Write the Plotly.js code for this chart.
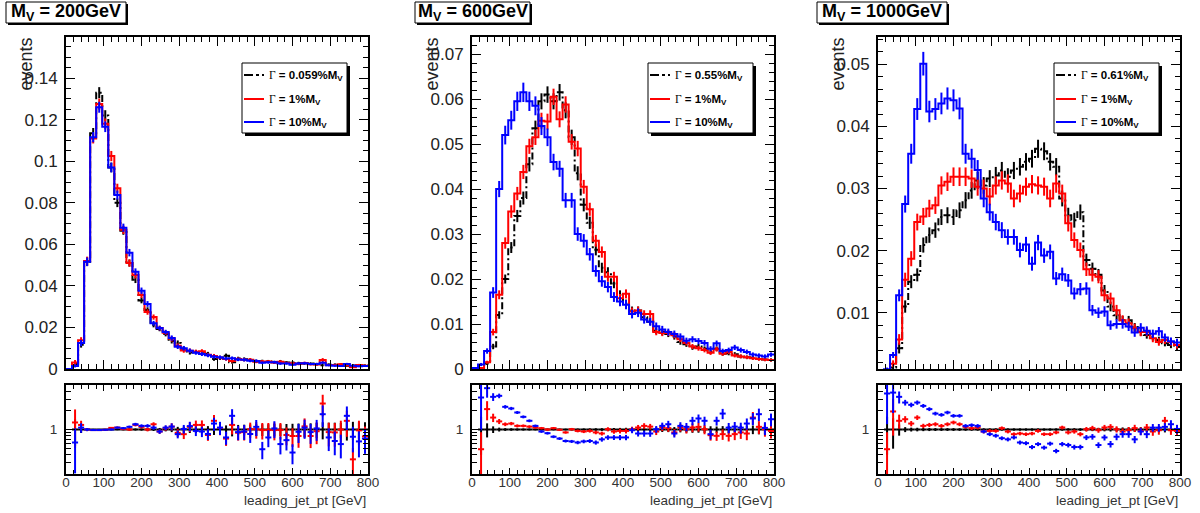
<!DOCTYPE html>
<html><head><meta charset="utf-8">
<script src="https://cdn.plot.ly/plotly-3.0.1.min.js"></script>
<style>html,body{margin:0;padding:0;background:#fff}#chart{width:1200px;height:513px}</style>
</head><body><div id="chart"></div>
<script>
// ---------------- DATA ----------------
const binEdges = [0,16,32,48,64,80,96,112,128,144,160,176,192,208,224,240,256,272,288,304,320,336,352,368,384,400,416,432,448,464,480,496,512,528,544,560,576,592,608,624,640,656,672,688,704,720,736,752,768,784,800];
const massLabels = ['200GeV','600GeV','1000GeV'];
const narrowWidths = ['0.059%','0.55%','0.61%'];
const widthLabels = ['1%','10%'];
const xTitle = 'leading_jet_pt [GeV]';
const yTitle = 'events';

// M = 200 GeV
const p1Black = [0,0.0024,0.0117,0.0516,0.1135,0.133,0.122,0.097,0.080,0.0666,0.051,0.043,0.033,0.0284,0.0212,0.0193,0.0168,0.0135,0.0125,0.0098,0.0079,0.0082,0.0076,0.0073,0.0048,0.0052,0.0064,0.0033,0.0050,0.0047,0.0043,0.0037,0.0037,0.0036,0.0032,0.0036,0.0031,0.0030,0.0028,0.0027,0.0026,0.0023,0.0018,0.0021,0.0021,0.0022,0.0015,0.0017,0.0018,0.0017];
const p1Red = [0,0.0031,0.0138,0.052,0.111,0.1275,0.118,0.1025,0.087,0.067,0.051,0.0452,0.0356,0.0274,0.025,0.0197,0.0175,0.0145,0.0112,0.0089,0.0088,0.0083,0.0085,0.0068,0.0063,0.0055,0.0048,0.0038,0.0048,0.0045,0.0045,0.0035,0.0036,0.0036,0.0031,0.0035,0.0029,0.0028,0.0024,0.0029,0.0023,0.0022,0.0043,0.0019,0.0019,0.0023,0.0018,0.0009,0.0019,0.0016];
const p1Blue = [0,0.0015,0.0125,0.0516,0.1116,0.126,0.1166,0.097,0.0837,0.068,0.056,0.0468,0.0377,0.0313,0.022,0.0197,0.0178,0.0149,0.0107,0.0100,0.0088,0.0078,0.0072,0.0066,0.0059,0.0056,0.0050,0.0052,0.0046,0.0044,0.0040,0.0039,0.0030,0.0032,0.0033,0.0026,0.0027,0.0020,0.0026,0.0028,0.0024,0.0024,0.0030,0.0018,0.0016,0.0014,0.0024,0.0016,0.0013,0.0014];
const p1RatioRed = [null,1.29,1.18,1.0,0.98,0.98,0.99,1.06,1.07,1.02,1.0,1.18,1.10,1.0,1.21,0.93,1.05,1.11,0.886,0.845,1.10,1.18,1.18,0.82,1.37,1.06,0.72,1.18,0.89,0.91,1.01,1.01,0.98,0.98,0.98,0.98,0.82,0.79,0.79,1.12,0.79,0.94,2.56,0.91,0.90,1.0,1.37,0.34,0.97,0.78];
const p1RatioBlue = [null,0.625,1.07,1.0,0.98,0.98,0.99,1.0,1.07,1.05,1.10,1.21,1.14,1.14,1.07,0.93,1.07,1.11,0.845,1.02,1.13,0.95,0.93,0.85,1.24,1.07,0.75,1.64,0.91,0.93,0.85,1.10,0.49,0.75,1.04,0.59,0.68,0.435,0.92,1.07,0.91,1.04,1.74,0.75,0.66,0.59,1.64,0.77,0.65,0.72];
const p1ErrBlack = [0,0.45,0.12,0.04,0.022,0.02,0.021,0.024,0.026,0.03,0.033,0.038,0.042,0.046,0.054,0.058,0.065,0.09,0.1,0.11,0.12,0.12,0.13,0.13,0.18,0.17,0.16,0.22,0.18,0.19,0.2,0.21,0.21,0.21,0.22,0.21,0.22,0.23,0.24,0.25,0.25,0.27,0.3,0.28,0.28,0.27,0.33,0.32,0.3,0.3];
const p1ErrRed = [0,0.4,0.11,0.04,0.022,0.021,0.022,0.024,0.025,0.03,0.034,0.036,0.041,0.047,0.05,0.057,0.062,0.09,0.1,0.12,0.12,0.12,0.12,0.14,0.15,0.16,0.17,0.19,0.17,0.18,0.18,0.2,0.2,0.2,0.22,0.2,0.22,0.23,0.25,0.22,0.25,0.26,0.22,0.29,0.29,0.26,0.29,0.4,0.29,0.3];
const p1ErrBlue = [0,0.5,0.12,0.04,0.022,0.021,0.022,0.024,0.026,0.029,0.032,0.035,0.04,0.044,0.052,0.056,0.06,0.085,0.1,0.11,0.12,0.12,0.13,0.14,0.15,0.16,0.17,0.16,0.18,0.18,0.19,0.19,0.22,0.21,0.2,0.23,0.22,0.26,0.23,0.22,0.24,0.24,0.22,0.27,0.29,0.3,0.23,0.29,0.32,0.3];

// M = 600 GeV
const p2Black = [0,0.0002,0.0012,0.005,0.012,0.020,0.027,0.034,0.038,0.0455,0.0535,0.0595,0.061,0.0595,0.0615,0.0575,0.0515,0.0435,0.0365,0.0325,0.0265,0.0225,0.0215,0.019,0.0165,0.0145,0.013,0.013,0.0115,0.0105,0.0085,0.0082,0.0078,0.0072,0.006,0.0055,0.0048,0.005,0.0045,0.0038,0.0045,0.0034,0.0035,0.0033,0.0028,0.0026,0.0025,0.0023,0.0021,0.0020];
const p2Red = [0,0.0002,0.0015,0.0082,0.0165,0.028,0.035,0.039,0.0438,0.0495,0.0515,0.0552,0.055,0.0605,0.0555,0.0588,0.0505,0.049,0.0405,0.0355,0.0285,0.026,0.0205,0.0205,0.0157,0.0167,0.0128,0.013,0.0122,0.0122,0.0082,0.008,0.008,0.0075,0.0066,0.0058,0.005,0.0046,0.0042,0.0036,0.0044,0.0034,0.0038,0.003,0.0028,0.0026,0.0024,0.0022,0.0021,0.0020];
const p2Blue = [0.0002,0.001,0.004,0.017,0.040,0.052,0.0553,0.0595,0.0615,0.0595,0.0585,0.054,0.0515,0.046,0.0445,0.0375,0.0375,0.030,0.0285,0.0255,0.0218,0.0195,0.0182,0.016,0.015,0.0143,0.0122,0.0125,0.011,0.0105,0.0095,0.0088,0.0082,0.0078,0.0072,0.0063,0.0066,0.0062,0.0058,0.0045,0.0057,0.004,0.0042,0.0048,0.0042,0.0038,0.0032,0.003,0.0028,0.0032];
const p2RatioRed = [null,0.49,2.09,1.54,1.34,1.21,1.24,1.14,1.14,1.11,1.075,1.05,1.0,1.05,0.99,0.90,1.01,0.95,0.93,0.95,0.90,0.865,1.01,0.93,0.95,0.95,1.01,1.075,1.14,1.11,0.93,1.075,1.05,0.90,1.075,1.01,1.075,1.10,1.01,0.815,0.795,0.845,0.795,0.845,0.90,0.865,1.54,1.10,1.01,0.95];
const p2RatioBlue = [null,3.18,4.46,3.26,3.38,2.27,2.14,1.85,1.58,1.37,1.14,0.93,0.875,0.77,0.72,0.66,0.65,0.625,0.65,0.66,0.625,0.70,0.75,0.75,0.75,0.75,0.975,0.865,0.865,0.865,1.01,1.14,1.21,0.865,1.14,1.1,1.37,1.49,1.37,0.845,1.37,1.78,1.07,1.11,1.07,1.24,1.49,1.74,1.06,1.45];
const p2ErrBlack = [0,0.6,0.25,0.12,0.07,0.05,0.045,0.04,0.038,0.035,0.032,0.03,0.03,0.03,0.03,0.031,0.033,0.036,0.04,0.042,0.047,0.05,0.052,0.055,0.06,0.064,0.068,0.068,0.072,0.075,0.085,0.087,0.09,0.093,0.1,0.105,0.112,0.11,0.116,0.125,0.115,0.13,0.13,0.135,0.145,0.15,0.155,0.16,0.165,0.17];
const p2ErrRed = [0,0.6,0.22,0.09,0.06,0.045,0.04,0.038,0.036,0.034,0.033,0.032,0.032,0.03,0.032,0.031,0.034,0.035,0.038,0.041,0.046,0.048,0.054,0.054,0.062,0.06,0.068,0.068,0.07,0.07,0.085,0.087,0.087,0.09,0.095,0.1,0.11,0.115,0.12,0.13,0.12,0.135,0.13,0.14,0.15,0.155,0.16,0.165,0.17,0.17];
const p2ErrBlue = [0,0.35,0.15,0.07,0.045,0.04,0.038,0.036,0.035,0.036,0.036,0.037,0.038,0.04,0.04,0.044,0.044,0.05,0.052,0.055,0.058,0.062,0.064,0.068,0.07,0.072,0.078,0.077,0.082,0.084,0.088,0.09,0.095,0.097,0.1,0.106,0.104,0.108,0.11,0.125,0.11,0.13,0.13,0.12,0.13,0.135,0.15,0.155,0.16,0.15];

// M = 1000 GeV
const p3Black = [0,0.0004,0.0012,0.0043,0.011,0.015,0.0161,0.0209,0.0225,0.0233,0.0254,0.0257,0.0254,0.0265,0.0281,0.0297,0.0313,0.0305,0.0316,0.0321,0.0329,0.0319,0.0329,0.0335,0.0343,0.0348,0.0364,0.036,0.0343,0.0335,0.0284,0.0257,0.0249,0.0262,0.0185,0.0171,0.0161,0.0136,0.011,0.0096,0.0088,0.0088,0.0077,0.0069,0.0064,0.0061,0.0056,0.0051,0.0048,0.0045];
const p3Red = [0,0.0002,0.0018,0.0057,0.0153,0.0187,0.0246,0.0255,0.0268,0.0273,0.0305,0.0311,0.0319,0.0319,0.0319,0.0316,0.0303,0.030,0.0287,0.0305,0.0313,0.0308,0.0284,0.0292,0.0303,0.0307,0.0305,0.0303,0.0284,0.0308,0.0292,0.0244,0.0217,0.0201,0.017,0.0161,0.0158,0.0128,0.0123,0.0104,0.0088,0.0083,0.0075,0.0069,0.0069,0.0059,0.0053,0.0056,0.0053,0.0048];
const p3Blue = [0,0.0009,0.0032,0.0128,0.0275,0.0356,0.0428,0.0501,0.0424,0.0428,0.0437,0.0445,0.0442,0.0429,0.0356,0.0348,0.033,0.0284,0.0262,0.0246,0.0233,0.0222,0.0222,0.0201,0.0210,0.0179,0.0213,0.0192,0.0198,0.0155,0.0162,0.0152,0.0131,0.0138,0.0139,0.0104,0.0100,0.0102,0.0080,0.0082,0.0082,0.0078,0.0068,0.0076,0.0071,0.0066,0.0070,0.0060,0.0054,0.0052];
const p3RatioRed = [null,0.49,1.92,1.37,1.45,1.24,1.54,1.14,1.18,1.21,1.14,1.21,1.29,1.21,1.10,1.05,1.075,0.93,0.95,0.95,1.05,0.93,0.845,0.865,0.845,0.865,0.95,0.845,0.845,0.90,1.075,0.90,0.93,0.845,1.01,1.05,0.975,1.075,1.10,1.01,0.93,0.975,1.05,0.95,1.075,0.93,0.975,1.37,0.975,0.95];
const p3RatioBlue = [null,3.68,3.8,3.26,2.65,2.44,2.65,2.35,2.09,1.78,1.70,1.85,1.64,1.64,1.14,1.17,1.14,0.93,0.845,0.8,0.73,0.70,0.75,0.625,0.61,0.53,0.59,0.52,0.60,0.46,0.59,0.57,0.53,0.53,0.75,0.77,0.57,0.75,0.59,0.77,0.845,0.845,0.7,0.93,0.845,1.07,1.07,1.10,1.21,1.02];
const p3ErrBlack = [0,0.6,0.5,0.2,0.09,0.07,0.065,0.058,0.055,0.053,0.05,0.05,0.05,0.048,0.047,0.045,0.044,0.044,0.043,0.043,0.042,0.043,0.042,0.042,0.041,0.041,0.04,0.04,0.041,0.042,0.045,0.047,0.048,0.047,0.055,0.057,0.059,0.064,0.07,0.075,0.078,0.078,0.083,0.088,0.09,0.092,0.097,0.1,0.105,0.108];
const p3ErrRed = [0,0.6,0.3,0.15,0.075,0.065,0.055,0.054,0.052,0.051,0.048,0.048,0.047,0.047,0.047,0.047,0.048,0.048,0.049,0.048,0.047,0.048,0.05,0.049,0.048,0.048,0.048,0.048,0.05,0.048,0.049,0.054,0.057,0.06,0.064,0.066,0.067,0.075,0.076,0.083,0.09,0.093,0.098,0.1,0.1,0.11,0.115,0.112,0.115,0.12];
const p3ErrBlue = [0,0.3,0.15,0.075,0.05,0.045,0.041,0.038,0.041,0.041,0.04,0.04,0.04,0.041,0.045,0.046,0.048,0.05,0.052,0.054,0.055,0.056,0.056,0.059,0.058,0.063,0.058,0.061,0.06,0.068,0.066,0.068,0.073,0.072,0.072,0.082,0.085,0.083,0.094,0.093,0.093,0.095,0.1,0.095,0.1,0.103,0.1,0.108,0.115,0.118];

// ---------------- BUILD ----------------
const W = 1200, H = 513;
const px = x => x / W, py = y => 1 - y / H;
const centers = binEdges.slice(0, -1).map((e, i) => (e + binEdges[i + 1]) / 2);
const halfW = binEdges.slice(0, -1).map((e, i) => (binEdges[i + 1] - e) / 2);

const FONT = 'Liberation Sans, Arial, Helvetica, sans-serif';
const BLACK = '#000000', RED = '#ff0000', BLUE = '#0000ff';

const panelData = [
  {black:p1Black, red:p1Red, blue:p1Blue, rRed:p1RatioRed, rBlue:p1RatioBlue, eB:p1ErrBlack, eR:p1ErrRed, eU:p1ErrBlue},
  {black:p2Black, red:p2Red, blue:p2Blue, rRed:p2RatioRed, rBlue:p2RatioBlue, eB:p2ErrBlack, eR:p2ErrRed, eU:p2ErrBlue},
  {black:p3Black, red:p3Red, blue:p3Blue, rRed:p3RatioRed, rBlue:p3RatioBlue, eB:p3ErrBlack, eR:p3ErrRed, eU:p3ErrBlue}
];
// layout settings (not data)
const panelStyle = [
  {yrange:[0,0.1598], dtick:0.02, minor:0.005, titleBox:[6,126]},
  {yrange:[0,0.0738], dtick:0.01, minor:0.002, titleBox:[415,530]},
  {yrange:[0.00094,0.0544], dtick:0.01, minor:0.002, titleBox:[817,947]}
];
const frameL = 66, frameR = 368, dxs = [0, 406, 812];
const mainTop = 37, mainBot = 369, ratTop = 385, ratBot = 474;

const traces = [];
const layout = {
  width: W, height: H, margin:{l:0,r:0,t:0,b:0},
  paper_bgcolor:'#fff', plot_bgcolor:'#fff', showlegend:false,
  font:{family:FONT, color:'#000'},
  shapes:[], annotations:[]
};
const axName = n => (n === 1 ? '' : String(n));

function stepTrace(vals, color, dash, xa, ya) {
  return {type:'scatter', mode:'lines', x:binEdges, y:vals.concat([vals[vals.length-1]]),
    line:{shape:'hv', color:color, width:2, dash:dash}, xaxis:xa, yaxis:ya, hoverinfo:'skip'};
}
function errTrace(vals, rel, color, xa, ya) {
  return {type:'scatter', mode:'markers', x:centers, y:vals.map(v => v > 0 ? v : null),
    marker:{size:1, color:color},
    error_y:{type:'data', array:vals.map((v,i) => v * rel[i]), color:color, thickness:2, width:0},
    xaxis:xa, yaxis:ya, hoverinfo:'skip'};
}
function ratioTrace(r, relS, relB, color, xa, ya) {
  const err = r.map((v,i) => v == null ? null : v * Math.sqrt(relS[i]*relS[i] + relB[i]*relB[i]));
  const errm = err.map((e,i) => e == null ? null : Math.min(e, r[i] * 0.97));
  return {type:'scatter', mode:'markers', x:centers, y:r, marker:{size:1, color:color},
    error_x:{type:'data', array:halfW, color:color, thickness:2, width:0},
    error_y:{type:'data', array:err, arrayminus:errm, color:color, thickness:2, width:0},
    xaxis:xa, yaxis:ya, hoverinfo:'skip'};
}

panelData.forEach((d, k) => {
  const st = panelStyle[k], dx = dxs[k];
  const nm = 2*k + 1, nr = 2*k + 2;
  const xm = 'x' + axName(nm), ym = 'y' + axName(nm);
  const xr = 'x' + axName(nr), yr = 'y' + axName(nr);
  const xdom = [px(frameL + dx), px(frameR + dx)];

  // main histograms
  traces.push(stepTrace(d.black, BLACK, '7px,3px,2px,3px', xm, ym));
  traces.push(errTrace(d.black, d.eB, BLACK, xm, ym));
  traces.push(stepTrace(d.red, RED, 'solid', xm, ym));
  traces.push(errTrace(d.red, d.eR, RED, xm, ym));
  traces.push(stepTrace(d.blue, BLUE, 'solid', xm, ym));
  traces.push(errTrace(d.blue, d.eU, BLUE, xm, ym));

  // ratio
  const one = d.black.map(v => v > 0 ? 1 : null);
  const zero = d.black.map(() => 0);
  traces.push(ratioTrace(one, zero, d.eB, BLACK, xr, yr));
  traces.push(ratioTrace(d.rRed, d.eR, d.eB, RED, xr, yr));
  traces.push(ratioTrace(d.rBlue, d.eU, d.eB, BLUE, xr, yr));

  const xBase = {
    domain:xdom, range:[0,800], tickmode:'linear', tick0:0, dtick:100,
    ticks:'inside', tickcolor:'#000', tickwidth:1,
    minor:{ticks:'inside', dtick:20, tick0:0, ticklen:4, tickcolor:'#000', tickwidth:1, showgrid:false},
    showline:true, linewidth:2, linecolor:'#000', mirror:'allticks',
    showgrid:false, zeroline:false, fixedrange:true
  };
  layout['xaxis' + axName(nm)] = Object.assign({}, xBase, {anchor:ym, ticklen:9, showticklabels:false, minor:Object.assign({}, xBase.minor, {ticklen:5})});
  layout['xaxis' + axName(nr)] = Object.assign({}, xBase, {anchor:yr, ticklen:6, showticklabels:true,
    tickfont:{size:13.5, family:FONT, color:'#333'}, ticklabelstandoff:-5});
  layout['yaxis' + axName(nm)] = {
    domain:[py(mainBot), py(mainTop)], anchor:xm, range:st.yrange,
    tickmode:'linear', tick0:0, dtick:st.dtick, ticks:'inside', ticklen:9, tickcolor:'#000', tickwidth:1,
    minor:{ticks:'inside', dtick:st.minor, tick0:0, ticklen:5, tickcolor:'#000', tickwidth:1, showgrid:false},
    showline:true, linewidth:2, linecolor:'#000', mirror:'allticks',
    tickfont:{size:17, family:FONT, color:'#222'}, showgrid:false, zeroline:false, fixedrange:true, ticklabelstandoff:3
  };
  layout['yaxis' + axName(nr)] = {
    domain:[py(ratBot), py(ratTop)], anchor:xr, type:'log', range:[Math.log10(0.2), Math.log10(5)],
    tickmode:'array', tickvals:[1], ticktext:['1'], ticks:'inside', ticklen:9, tickcolor:'#000', tickwidth:1,
    minor:{tickmode:'array', tickvals:[0.3,0.4,0.5,0.6,0.7,0.8,0.9,2,3,4], ticks:'inside', ticklen:5, tickcolor:'#000', tickwidth:1, showgrid:false},
    showline:true, linewidth:2, linecolor:'#000', mirror:'allticks',
    tickfont:{size:13.5, family:FONT, color:'#333'}, showgrid:false, zeroline:false, fixedrange:true, ticklabelstandoff:4
  };

  // title box with shadow
  const tb = st.titleBox;
  layout.shapes.push({type:'rect', xref:'paper', yref:'paper', x0:px(tb[0]+2), x1:px(tb[1]+2), y0:py(25), y1:py(4), fillcolor:'#000', line:{width:0}});
  layout.shapes.push({type:'rect', xref:'paper', yref:'paper', x0:px(tb[0]), x1:px(tb[1]), y0:py(23), y1:py(2), fillcolor:'#fff', line:{color:'#000', width:1}});
  layout.annotations.push({xref:'paper', yref:'paper', x:px((tb[0]+tb[1])/2), y:py(12.5), xanchor:'center', yanchor:'middle',
    text:'<b>M<sub>V</sub> = ' + massLabels[k] + '</b>', showarrow:false, font:{size:18, family:FONT, color:'#000'}});

  // y title
  layout.annotations.push({xref:'paper', yref:'paper', x:px(frameL - 41 + dx), y:py(mainTop - 1), xanchor:'center', yanchor:'top',
    text:yTitle, textangle:-90, showarrow:false, font:{size:18, family:FONT, color:'#222'}});
  // x title
  layout.annotations.push({xref:'paper', yref:'paper', x:px(frameR + dx), y:py(500), xanchor:'right', yanchor:'middle',
    text:xTitle, showarrow:false, font:{size:13.5, family:FONT, color:'#333'}});

  // legend box
  const lx0 = 242 + dx, lx1 = 347 + dx, ly0 = 63, ly1 = 133;
  layout.shapes.push({type:'rect', xref:'paper', yref:'paper', x0:px(lx0+3), x1:px(lx1+3), y0:py(ly1+3), y1:py(ly0+3), fillcolor:'#000', line:{width:0}});
  layout.shapes.push({type:'rect', xref:'paper', yref:'paper', x0:px(lx0), x1:px(lx1), y0:py(ly1), y1:py(ly0), fillcolor:'#fff', line:{color:'#000', width:1}});
  const rows = [75, 99, 122];
  const cols = [BLACK, RED, BLUE];
  const dashes = ['dashdot', 'solid', 'solid'];
  const labels = [narrowWidths[k], widthLabels[0], widthLabels[1]];
  rows.forEach((ry, j) => {
    layout.shapes.push({type:'line', xref:'paper', yref:'paper', x0:px(lx0+2), x1:px(lx0+22), y0:py(ry), y1:py(ry),
      line:{color:cols[j], width:2, dash:dashes[j]}});
    layout.annotations.push({xref:'paper', yref:'paper', x:px(lx0+25), y:py(ry+1), xanchor:'left', yanchor:'middle',
      text:'<span style="font-family:Liberation Serif, Times New Roman, serif">Γ</span><b> = ' + labels[j] + 'M<sub>V</sub></b>',
      showarrow:false, font:{size:11.5, family:FONT, color:'#000'}});
  });
});

Plotly.newPlot('chart', traces, layout, {staticPlot:true, displayModeBar:false});
</script>
</body></html>
